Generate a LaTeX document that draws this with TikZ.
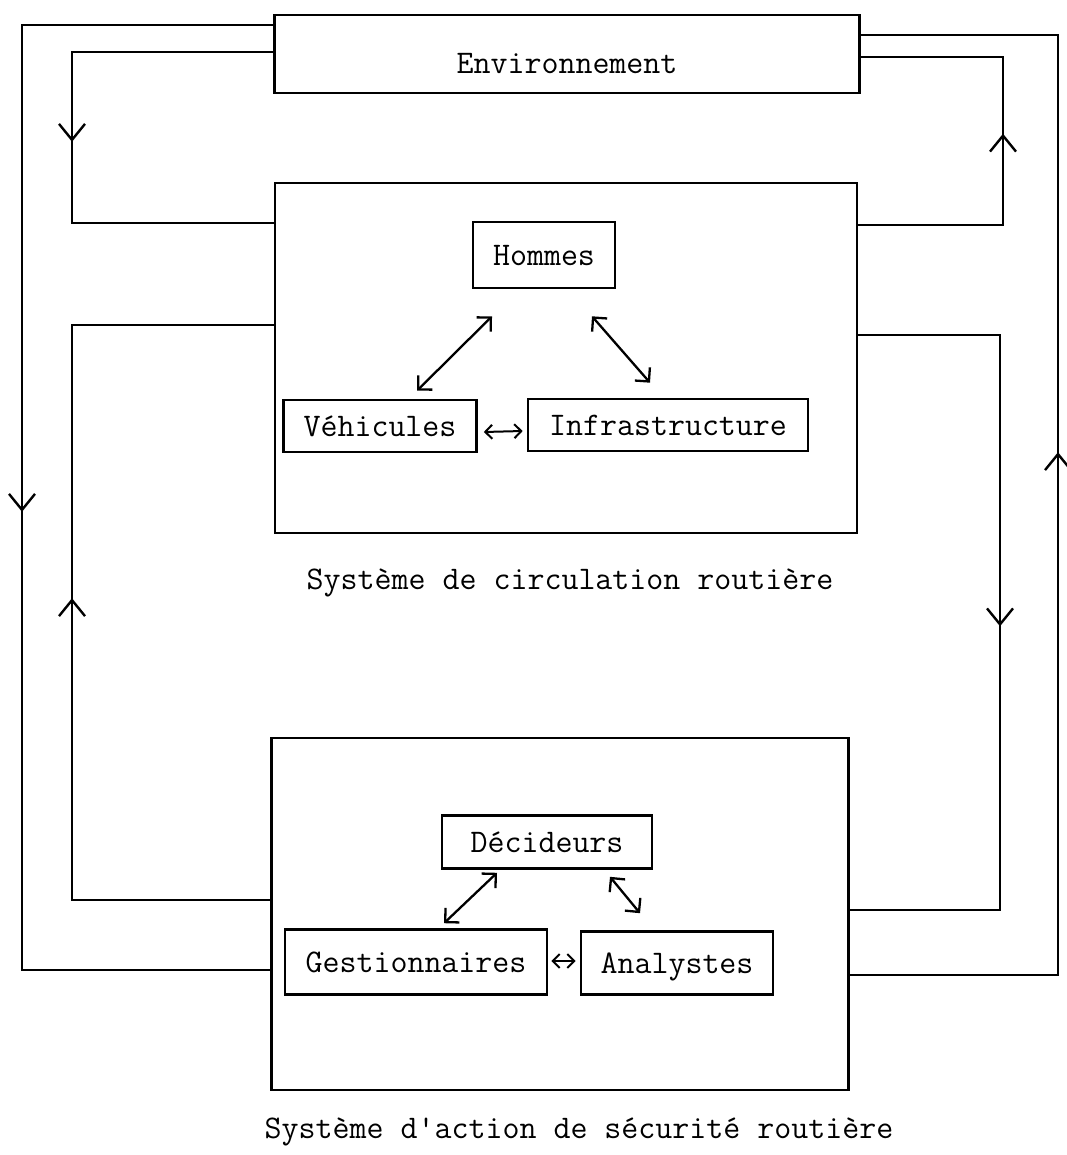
\documentclass[tikz,border=0pt]{standalone}
\usepackage{fontspec}
\usetikzlibrary{arrows.meta,decorations.markings}
\begin{document}
\begin{tikzpicture}[x=1pt,y=-1pt,
  ln/.style={line width=2.6pt, line join=miter},
  tt/.style={font=\fontsize{33}{40}\selectfont\ttfamily, text height=21pt, text depth=0pt},
  box/.style={draw, ln, inner sep=0pt, tt},
  big/.style={draw, ln, inner sep=0pt},
  captext/.style={inner sep=0pt, tt},
  flow/.style={postaction=decorate, decoration={markings, mark=at position #1 with {\arrow{Straight Barb[length=16pt,width=26pt,line width=2.4pt]}}}},
  bi/.style={line width=2.3pt, {Straight Barb[length=10pt,width=20pt]}-{Straight Barb[length=10pt,width=20pt]}},
  bis/.style={line width=2pt, {Straight Barb[length=7pt,width=14pt]}-{Straight Barb[length=7pt,width=14pt]}}]

\useasboundingbox (0,0) rectangle (1066,1155);
\fill[white] (0,0) rectangle (1066,1155);

% nodes
\node[box, minimum width=585pt, minimum height=78pt, text height=40pt] (env) at (567,54) {Environnement};
\node[big, minimum width=582pt, minimum height=350pt] (circ) at (566,358) {};
\node[box, minimum width=142pt, minimum height=66pt] (hom) at (544,255) {Hommes};
\node[box, minimum width=193pt, minimum height=52pt] (veh) at (380,426) {Véhicules};
\node[box, minimum width=280pt, minimum height=52pt] (inf) at (668,425) {Infrastructure};
\node[captext] (c1) at (570,579) {Système de circulation routière};
\node[big, minimum width=577pt, minimum height=352pt] (act) at (560,914) {};
\node[box, minimum width=210pt, minimum height=53pt] (dec) at (547,842) {Décideurs};
\node[box, minimum width=262pt, minimum height=65pt] (ges) at (416,962) {Gestionnaires};
\node[box, minimum width=192pt, minimum height=63pt] (ana) at (677,963) {Analystes};
\node[captext] (c2) at (579,1128) {Système d\textquotesingle action de sécurité routière};

% loops
\draw[ln, flow=291pt] (env.west |- 0,52) -- (72,52) -- (72,223) -- (circ.west |- 0,223);
\draw[ln, flow=236pt] (circ.east |- 0,225) -- (1003,225) -- (1003,57) -- (env.east |- 0,57);
\draw[ln, flow=433pt] (circ.east |- 0,335) -- (1000,335) -- (1000,910) -- (act.east |- 0,910);
\draw[ln, flow=500pt] (act.west |- 0,900) -- (72,900) -- (72,325) -- (circ.west |- 0,325);
\draw[ln, flow=738pt] (env.west |- 0,25) -- (22,25) -- (22,970) -- (act.west |- 0,970);
\draw[ln, flow=731pt] (act.east |- 0,975) -- (1058,975) -- (1058,35) -- (env.east |- 0,35);

% inner relations
\draw[bi] ([shift={(37,-8)}]veh.north) -- ([shift={(-52,27)}]hom.south);
\draw[bi] ([shift={(48,27)}]hom.south) -- ([shift={(-18,-15)}]inf.north);
\draw[bis] ([shift={(6,6)}]veh.east) -- ([shift={(-4,6)}]inf.west);
\draw[bi] ([shift={(28,-5)}]ges.north) -- ([shift={(-50,3)}]dec.south);
\draw[bi] ([shift={(63,7)}]dec.south) -- ([shift={(-37,-17)}]ana.north);
\draw[bis] ([shift={(3,-1)}]ges.east) -- ([shift={(-4,-2)}]ana.west);
\end{tikzpicture}
\end{document}
